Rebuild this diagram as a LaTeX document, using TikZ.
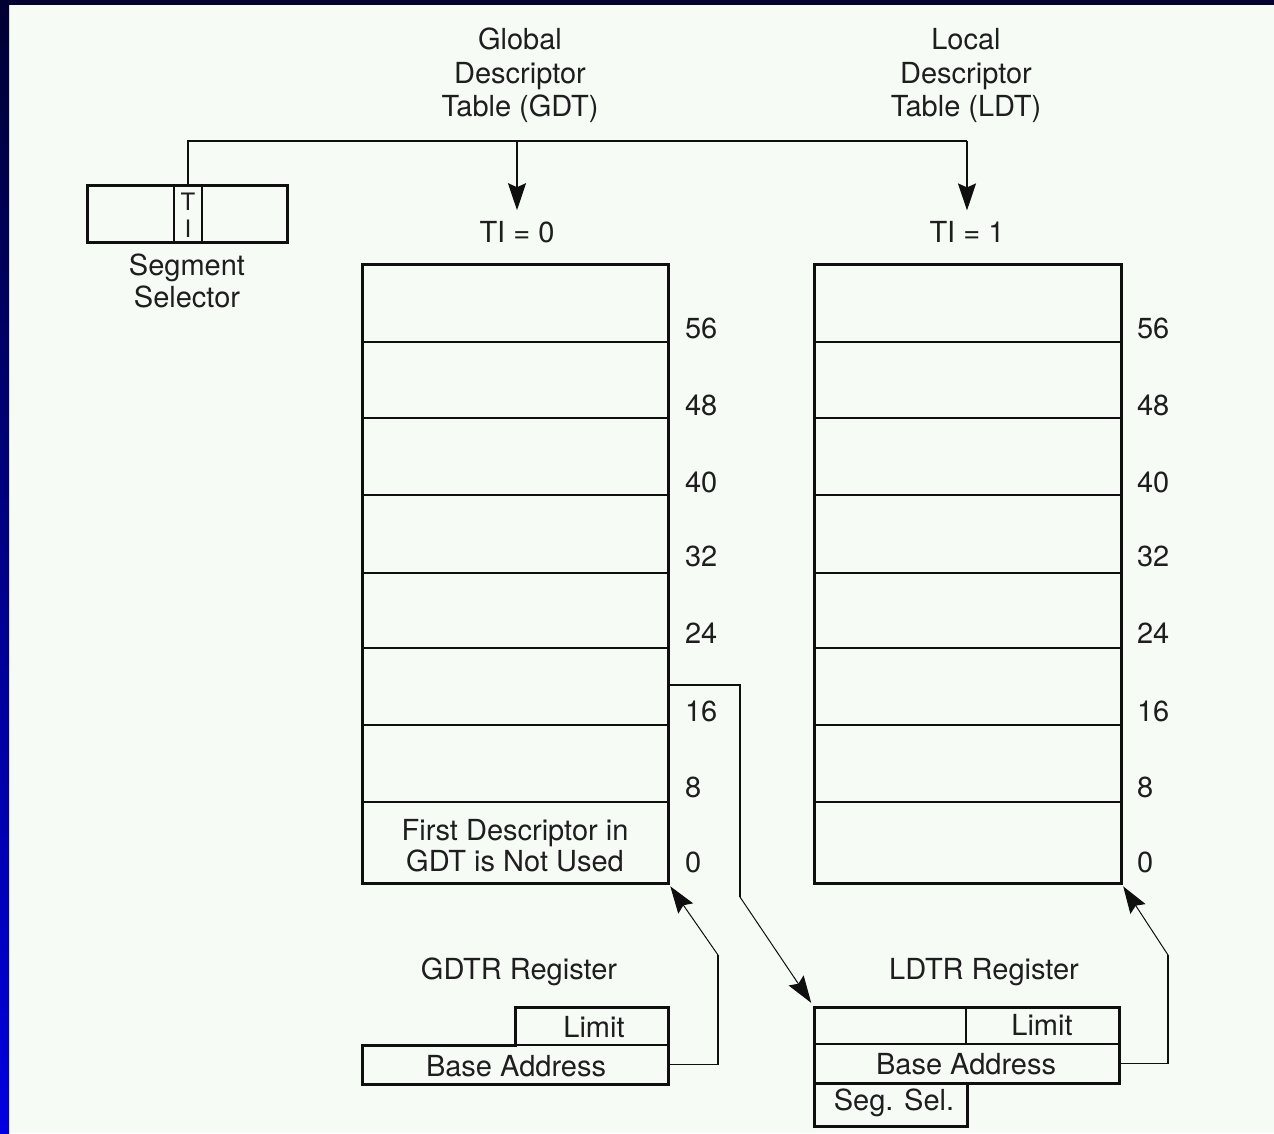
\documentclass[tikz,border=0pt]{standalone}
\usepackage{fontspec}
\setmainfont{TeX Gyre Heros}
\usetikzlibrary{arrows.meta,calc}
\definecolor{bg}{RGB}{246,251,246}
\definecolor{navy}{RGB}{0,0,51}
\definecolor{blueb}{RGB}{0,0,225}
\definecolor{txt}{RGB}{30,30,30}
\definecolor{ink}{RGB}{15,15,15}
\begin{document}
\begin{tikzpicture}[x=1pt,y=-1pt,
  lab/.style={font=\fontsize{29}{33.5}\selectfont, text=txt, inner sep=0pt, outer sep=0pt},
  small/.style={font=\fontsize{24}{26}\selectfont, text=txt, inner sep=0pt},
  box/.style={draw=ink, line width=3pt, inner sep=0pt, outer sep=0pt},
  cell/.style={inner sep=0pt, outer sep=0pt},
  thick box/.style={draw=ink, line width=3pt},
  rowline/.style={draw=ink, line width=1.6pt},
  conn/.style={draw=ink, line width=1.6pt},
  diag/.style={draw=ink, line width=1pt},
  arr/.style={-{Stealth[length=27pt,width=18pt,inset=4pt]}}
]
% background and frame
\fill[bg] (0,0) rectangle (1274,1133);
\shade[top color=navy, bottom color=blueb] (0,0) rectangle (9,1133);
\fill[navy] (0,0) rectangle (1274,5);
\useasboundingbox (0,0) rectangle (1274,1133);

% titles
\node[lab, align=center] (gdtt) at (520,75.5) {Global\\Descriptor\\Table (GDT)};
\node[lab, align=center] (ldtt) at (966,75.5) {Local\\Descriptor\\Table (LDT)};
\node[lab] (ti0) at (517,232) {TI = 0};
\node[lab] (ti1) at (967,232) {TI = 1};

% segment selector
\node[box, minimum width=200pt, minimum height=57pt, anchor=north west] (seg) at (87,185) {};
\node[cell, draw=ink, line width=1.6pt, minimum width=28pt, minimum height=57pt, anchor=north west] (ti) at (174,185) {};
\node[small] (tiT) at (188,202) {T};
\node[small] (tiI) at (188,229) {I};
\draw[thick box] (87,185) rectangle (287,242);
\node[lab, align=center, font=\fontsize{29}{32}\selectfont] (segl) at (187,281) {Segment\\Selector};

% selector connector
\coordinate (topline) at (0,141);
\draw[conn] (ti.north) -- (ti.north |- topline) -- (ti1.north |- topline);
\draw[conn, arr, shorten >=11pt] (ti0.north |- topline) -- (ti0.north);
\draw[conn, arr, shorten >=11pt] (ti1.north |- topline) -- (ti1.north);

% GDT
\node[box, minimum width=306pt, minimum height=619pt, anchor=north west] (gdt) at (362,264) {};
\foreach \y in {342,418,495,573,648,725,802} \draw[rowline] (362,\y) -- (668,\y);
\foreach \y/\n in {328/56,405/48,482/40,556/32,633/24,711/16,787/8,862/0}
  \node[lab, anchor=west] (g\n) at (685,\y) {\n};
\node[lab, align=center, font=\fontsize{29}{31}\selectfont] (first) at (515,846) {First Descriptor in\\GDT is Not Used};

% LDT
\node[box, minimum width=307pt, minimum height=619pt, anchor=north west] (ldt) at (814,264) {};
\foreach \y in {342,418,495,573,648,725,802} \draw[rowline] (814,\y) -- (1121,\y);
\foreach \y/\n in {328/56,405/48,482/40,556/32,633/24,711/16,787/8,862/0}
  \node[lab, anchor=west] (l\n) at (1137,\y) {\n};

% GDTR register
\node[lab] (gdtrl) at (519,972) {GDTR Register};
\node[cell, minimum width=153pt, minimum height=38pt, anchor=north west] (glim) at (515,1007) {};
\node[cell, minimum width=306pt, minimum height=39pt, anchor=north west] (gbase) at (362,1045) {};
\draw[rowline] (515,1045) -- (668,1045);
\draw[thick box] (362,1084) -- (362,1045) -- (515,1045) -- (515,1007) -- (668,1007) -- (668,1084) -- cycle;
\node[lab] (glimt) at (594,1027) {Limit};
\node[lab] (gbaset) at (516,1066) {Base Address};

% LDTR register
\node[lab] (ldtrl) at (984,972) {LDTR Register};
\node[cell, minimum width=305pt, minimum height=37pt, anchor=north west] (ltop) at (814,1007) {};
\node[cell, minimum width=305pt, minimum height=39pt, anchor=north west] (lbase) at (814,1044) {};
\node[cell, minimum width=153pt, minimum height=43pt, anchor=north west] (lsel) at (814,1083) {};
\draw[rowline] (814,1044) -- (1119,1044);
\draw[rowline] (966,1007) -- (966,1044);
\draw[thick box] (814,1007) rectangle (1119,1083);
\draw[thick box] (814,1083) rectangle (967,1126);
\node[lab] (llimt) at (1042,1025) {Limit};
\node[lab] (lbaset) at (966,1064) {Base Address};
\node[lab] (lselt) at (894,1103) {Seg. Sel.};

% GDTR -> GDT
\coordinate (gbend) at (718,955);
\draw[conn] (gbase.east) -| (gbend);
\draw[diag, arr, shorten >=4pt] (gbend) -- (gdt.south east);

% GDT descriptor 16 -> LDTR
\coordinate (r16) at (0,685);
\coordinate (sbend) at (740,897);
\draw[conn] (gdt.east |- r16) -| (sbend);
\draw[diag, arr, shorten >=5pt] (sbend) -- (ltop.north west);

% LDTR -> LDT
\coordinate (lbend) at (1168,955);
\draw[conn] (lbase.east) -| (lbend);
\draw[diag, arr, shorten >=4pt] (lbend) -- (ldt.south east);
\end{tikzpicture}
\end{document}
